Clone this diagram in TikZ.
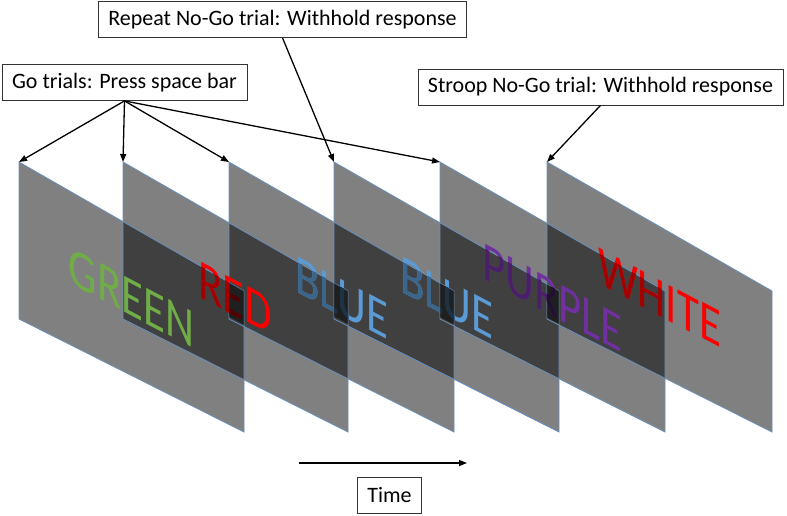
\documentclass[tikz,border=0pt]{standalone}
\usepackage{fontspec}
\setmainfont{Carlito}
\usetikzlibrary{arrows.meta}
\definecolor{panelgray}{RGB}{128,128,128}
\definecolor{overlapgray}{RGB}{64,64,64}
\definecolor{edgeblue}{RGB}{105,145,190}
\definecolor{wgreen}{RGB}{112,173,71}
\definecolor{wred}{RGB}{250,0,0}
\definecolor{wblue}{RGB}{91,155,213}
\definecolor{wpurple}{RGB}{112,48,160}
\newcommand{\panel}[1]{(#1,162) -- (#1+225,291) -- (#1+225,432) -- (#1,319) -- cycle}
\tikzset{
  labelbox/.style={draw=black!80, fill=white, line width=0.8pt, font=\fontsize{22}{26}\selectfont, minimum height=36pt, inner xsep=10pt},
  word/.style={font=\fontsize{56}{60}\selectfont, inner xsep=0pt, inner ysep=4pt, yslant=-0.53, xscale=0.8},
  arr/.style={-{Triangle[length=8pt,width=6pt]}, line width=1.3pt}
}
\begin{document}
\begin{tikzpicture}[x=1pt, y=-1pt]
		\useasboundingbox (0,0) rectangle (787,515);
		%panels
		\foreach \x in {19,123,229,334,440,547}{
			\fill[panelgray] \panel{\x};
		}
		\foreach \xa/\xb in {19/123,123/229,229/334,334/440,440/547}{
			\begin{scope}
				\clip \panel{\xa};
				\fill[overlapgray] \panel{\xb};
			\end{scope}
		}
		\foreach \x [count=\k] in {19,123,229,334,440,547}{
			\draw[edgeblue, line width=0.8pt] \panel{\x};
			\coordinate (p\k) at (\x,162);
		}
		
		%words
		\foreach \w/\c/\x [count=\k] in {GREEN/wgreen/19, RED/wred/123, BLUE/wblue/229, BLUE/wblue/334, PURPLE/wpurple/440, WHITE/wred/547}{
			\node[word, text=\c] (w\k) at (\x+112.5,298){\w};
		}
		\foreach \w/\c/\x/\xp [count=\k from 2] in {RED/wred/123/19, BLUE/wblue/229/123, BLUE/wblue/334/229, PURPLE/wpurple/440/334, WHITE/wred/547/440}{
			\begin{scope}
				\clip \panel{\xp};
				\node[word, text=\c!65!black] (d\k) at (\x+112.5,298){\w};
			\end{scope}
		}
		\foreach \k/\xp/\xn in {2/19/229, 3/123/334, 4/229/440, 5/334/547}{
			\begin{scope}
				\clip \panel{\xp};
				\clip \panel{\xn};
				\fill[black, opacity=0.5] (w\k.north west) -- (w\k.north east) -- (w\k.south east) -- (w\k.south west) -- cycle;
			\end{scope}
		}
		
		%labels
		\node[labelbox] (gobox) at (124.5,82.5){Go trials: Press space bar};
		\node[labelbox] (repeatbox) at (282.5,19.5){Repeat No-Go trial: Withhold response};
		\node[labelbox] (stroopbox) at (600.5,87){Stroop No-Go trial: Withhold response};
		\node[labelbox] (timebox) at (389.5,495){Time};
		
		\foreach \k in {1,2,3,5}{
			\draw[arr] (gobox.south)--(p\k);
		}
		\draw[arr] (repeatbox.south)--(p4);
		\draw[arr] (stroopbox.south)--(p6);
		
		%time axis
		\coordinate (t0) at (299,463);
		\coordinate (t1) at (467,463);
		\draw[arr] (t0)--(t1);
\end{tikzpicture}
\end{document}
